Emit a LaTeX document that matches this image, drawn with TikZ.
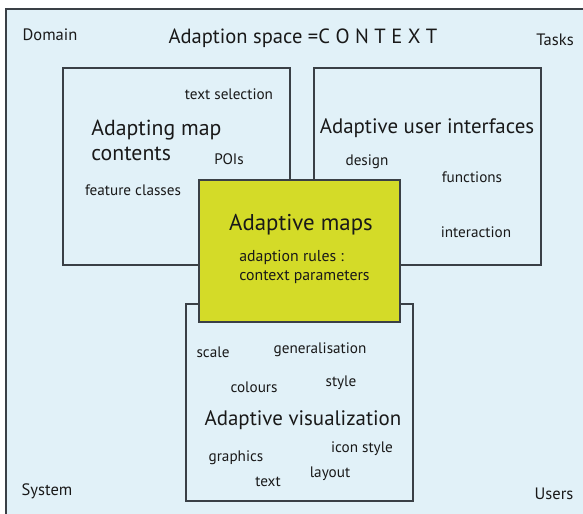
\documentclass[tikz,border=0pt]{standalone}
\usepackage{fontspec}
\setmainfont{PT Sans}
\usetikzlibrary{positioning}
\definecolor{bgcol}{RGB}{225, 241, 248}
\definecolor{mapcol}{RGB}{212, 219, 40}
\definecolor{edgecol}{RGB}{58, 64, 70}
\definecolor{txtcol}{RGB}{25, 25, 25}

\begin{document}
\begin{tikzpicture}[x=0.02cm, y=-0.02cm,
      area/.style={rectangle,draw=edgecol,line width=0.9pt,fill=bgcol,minimum width=4.54cm,minimum height=3.94cm,inner sep=0pt,anchor=north west},
      core/.style={rectangle,draw=edgecol,line width=0.9pt,fill=mapcol,minimum width=4.02cm,minimum height=2.84cm,inner sep=0pt,anchor=north west},
      big/.style={text=txtcol,inner sep=0pt,font=\fontsize{11.9}{14.2}\selectfont},
      small/.style={text=txtcol,inner sep=0pt,font=\fontsize{8.65}{10.8}\selectfont},
      corner/.style={text=txtcol,inner sep=0pt,font=\fontsize{9.4}{10}\selectfont}]
    \useasboundingbox (0, 0) rectangle (583, 514);
    \fill[bgcol] (6, 9) rectangle (583, 514);
    \draw[edgecol, line width=0.9pt] (6, 514) -- (6, 9) -- (583, 9);
    \node[area] (contents) at (62, 67)   {};
    \node[area] (ui)       at (313, 67)  {};
    \node[area] (vis)      at (185, 303) {};
    \node[core] (maps)     at (198, 179) {};
    \node[corner] (domain) at (50, 35)   {Domain};
    \node[corner] (tasks)  at (555, 40)  {Tasks};
    \node[corner] (system) at (47, 491)  {System};
    \node[corner] (users)  at (554, 494) {Users};
    \node[big, font=\fontsize{11.7}{14}\selectfont] (title) at (303, 38) {Adaption space =C O N T E X T};
    \node[big, font=\fontsize{12.4}{14.2}\selectfont, align=left, anchor=west] (contentslbl) at (91, 140.5) {Adapting map\\contents};
    \node[small] (textsel)  at (229, 94)  {text selection};
    \node[small] (pois)     at (229, 159) {POIs};
    \node[small] (features) at (133, 190) {feature classes};
    \node[big] (uilbl) at (427, 128) {Adaptive user interfaces};
    \node[small] (design)      at (367, 162) {design};
    \node[small] (functions)   at (472, 177) {functions};
    \node[small] (interaction) at (476, 232) {interaction};
    \node[big, font=\fontsize{13}{15}\selectfont] (mapslbl) at (301, 225) {Adaptive maps};
    \node[small, font=\fontsize{9}{10.8}\selectfont, align=left, anchor=west] (rules) at (239, 266.5) {adaption rules :\\context parameters};
    \node[small] (scale)  at (213, 352) {scale};
    \node[small] (general) at (320, 350) {generalisation};
    \node[small] (colours) at (254, 387) {colours};
    \node[small] (style)   at (341, 383) {style};
    \node[big] (vislbl) at (303, 420) {Adaptive visualization};
    \node[small] (icon)     at (362, 449) {icon style};
    \node[small] (graphics) at (236, 458) {graphics};
    \node[small] (layout)   at (330, 474) {layout};
    \node[small] (text)     at (268, 482) {text};
  \end{tikzpicture}
\end{document}
